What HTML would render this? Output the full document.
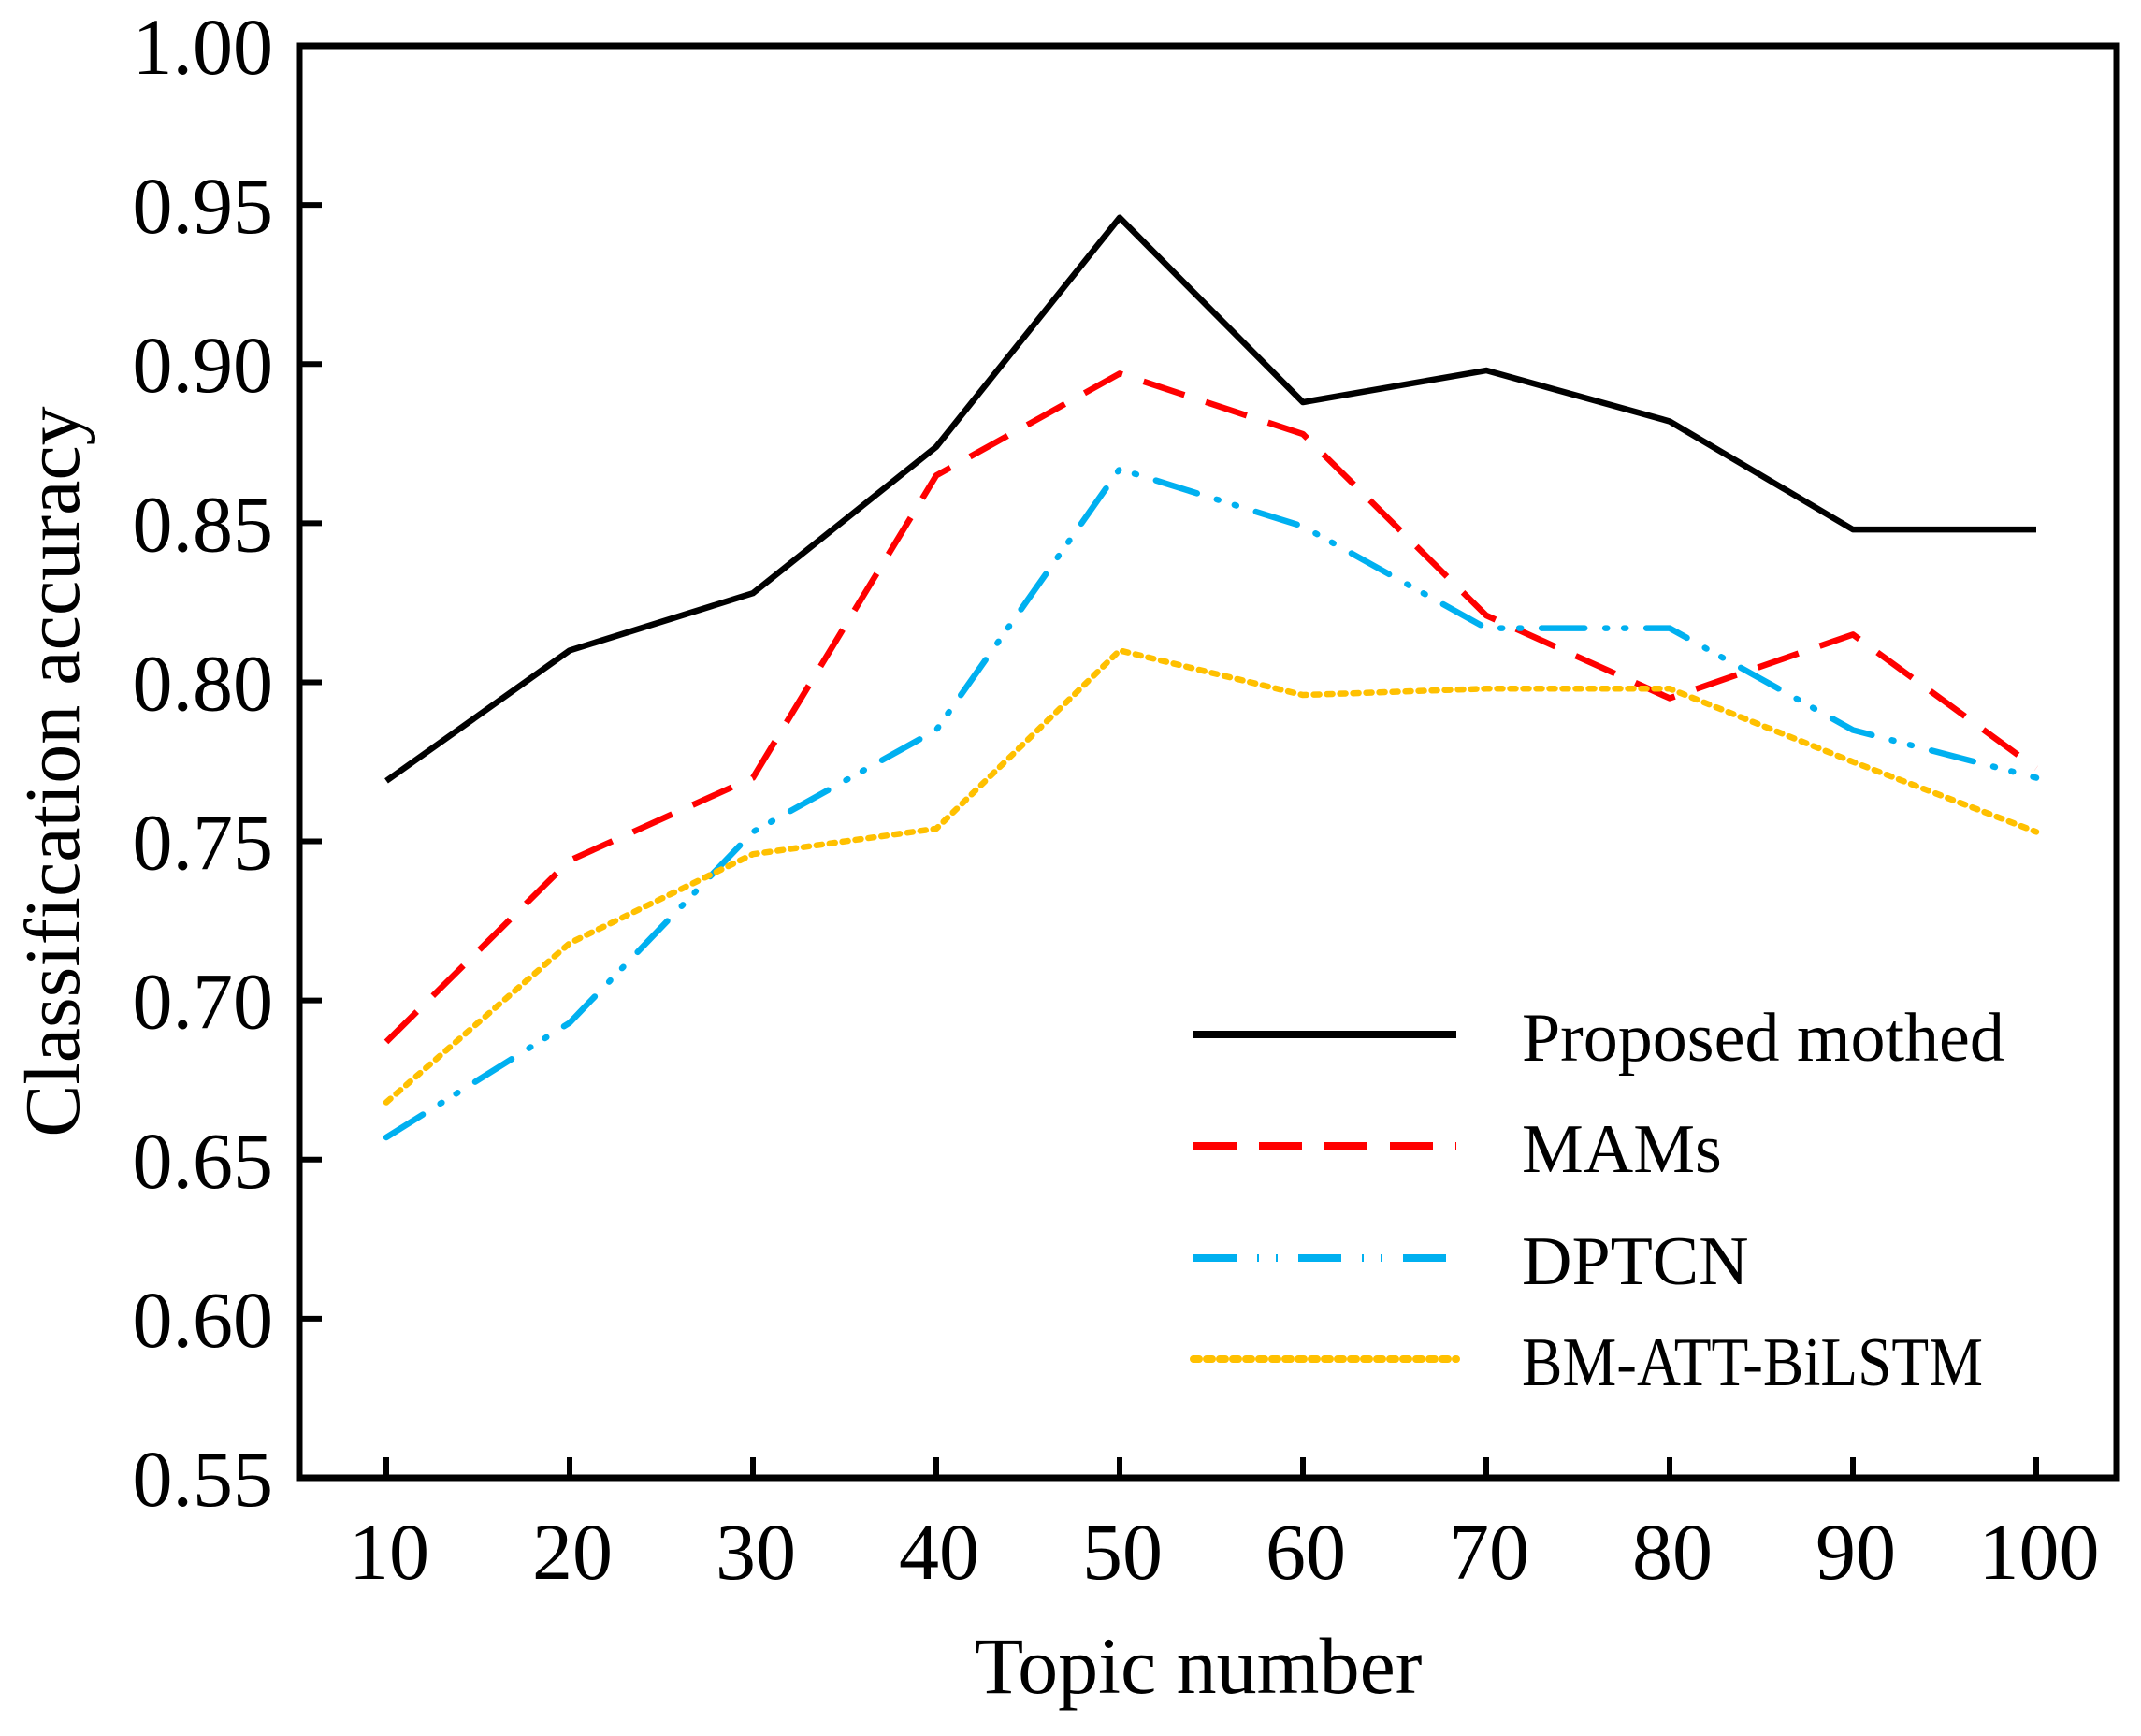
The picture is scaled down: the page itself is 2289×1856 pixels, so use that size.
<!DOCTYPE html>
<html><head><meta charset="utf-8"><style>
html,body{margin:0;padding:0;background:#fff}
svg{display:block}
text{font-family:"Liberation Serif",serif;fill:#000}
</style></head><body>
<svg id="chart" width="2289" height="1856" viewBox="0 0 2289 1856" xmlns="http://www.w3.org/2000/svg">
</svg>
<script>
const categories = [10,20,30,40,50,60,70,80,90,100];
const yTicks = [0.55,0.60,0.65,0.70,0.75,0.80,0.85,0.90,0.95,1.00];
const yTickLabels = ["0.55","0.60","0.65","0.70","0.75","0.80","0.85","0.90","0.95","1.00"];
const proposed = [0.769,0.810,0.828,0.874,0.946,0.888,0.898,0.882,0.848,0.848];
const mams = [0.687,0.744,0.770,0.865,0.897,0.878,0.821,0.795,0.815,0.773];
const dptcn = [0.657,0.693,0.753,0.785,0.867,0.849,0.817,0.817,0.785,0.770];
const bmatt = [0.668,0.718,0.746,0.754,0.810,0.796,0.798,0.798,0.775,0.753];
const seriesNames = ["Proposed mothed","MAMs","DPTCN","BM-ATT-BiLSTM"];

const NS="http://www.w3.org/2000/svg";
const svg=document.getElementById('chart');
const L=320,R=2263,T=49,B=1580;
const xMin=10,xMax=100,x0=413,x1=2177;
function xs(v){return x0+(v-xMin)/(xMax-xMin)*(x1-x0);}
function ys(v){return B-(v-0.55)/(1.00-0.55)*(B-T);}
function mk(tag,attrs){const e=document.createElementNS(NS,tag);for(const k in attrs)e.setAttribute(k,attrs[k]);svg.appendChild(e);return e;}

const styles=[
 {c:"#000000",d:"",n:"series-proposed"},
 {c:"#ff0000",d:"46 24",n:"series-mams"},
 {c:"#00b0f0",d:"46 22 2 18 2 22",n:"series-dptcn"},
 {c:"#ffc000",d:"6 8",n:"series-bm-att-bilstm"}
];
const data=[proposed,mams,dptcn,bmatt];
data.forEach((s,i)=>{
 const p=mk('polyline',{points:s.map((v,j)=>xs(categories[j])+','+ys(v)).join(' '),fill:'none',stroke:styles[i].c,'stroke-width':6.5,'stroke-dasharray':styles[i].d,'stroke-linejoin':'round','stroke-linecap':i==2||i==3?'round':'butt'});
 
 
});

const f=mk('rect',{x:L,y:T,width:R-L,height:B-T,fill:'none',stroke:'#000','stroke-width':7});



yTicks.forEach((v,i)=>{
 const y=ys(v);
 const t=mk('line',{x1:L,x2:L+24,y1:y,y2:y,stroke:'#000','stroke-width':6});
 
 
 const tx=mk('text',{x:292,y:y+30,'text-anchor':'end','font-size':86});
 tx.textContent=yTickLabels[i];
 
 
});
categories.forEach(c=>{
 const x=xs(c);
 const t=mk('line',{x1:x,x2:x,y1:B,y2:B-22,stroke:'#000','stroke-width':6});
 
 
 const tx=mk('text',{x:x+3,y:1688,'text-anchor':'middle','font-size':86});
 tx.textContent=String(c);
 
 
});
const xt=mk('text',{x:1281,y:1810,'text-anchor':'middle','font-size':86});
xt.textContent="Topic number";


const yt=mk('text',{x:0,y:0,'text-anchor':'middle','font-size':84,transform:'translate(84,825) rotate(-90)'});
yt.textContent="Classification accuracy";



const ly=[1106,1225,1345,1453];
const lw=[null,null,null,493];
seriesNames.forEach((n,i)=>{
 const l=mk('line',{x1:1276,x2:1557,y1:ly[i],y2:ly[i],stroke:styles[i].c,'stroke-width':8,'stroke-dasharray':styles[i].d,'stroke-linecap':i==3?'round':'butt'});
 
 
 const at={x:1627,y:ly[i]+28,'font-size':74};
 if(lw[i]){at.textLength=lw[i];at.lengthAdjust='spacingAndGlyphs';}
 const tx=mk('text',at);
 tx.textContent=n;
 
 
});
</script>
</body></html>
